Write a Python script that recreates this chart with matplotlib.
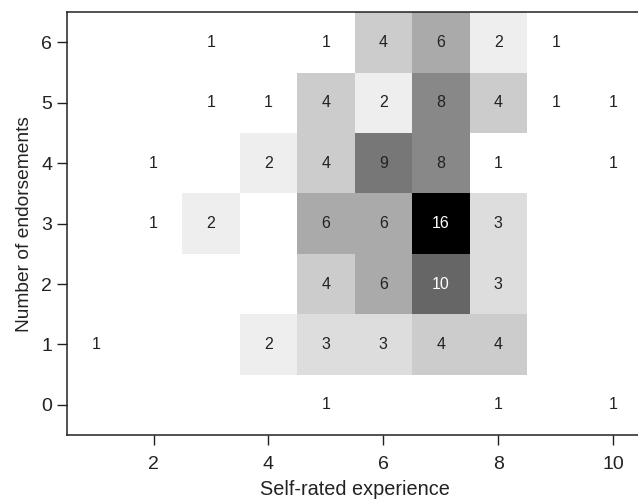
import numpy as np
import matplotlib
matplotlib.use("Agg")
import matplotlib.pyplot as plt
from matplotlib.colors import LinearSegmentedColormap

plt.rcParams['font.family'] = ['Liberation Sans', 'DejaVu Sans']

experience = [1, 2, 3, 4, 5, 6, 7, 8, 9, 10]
endorsements = [0, 1, 2, 3, 4, 5, 6]

row_0 = [0, 0, 0, 0, 1, 0, 0, 1, 0, 1]
row_1 = [1, 0, 0, 2, 3, 3, 4, 4, 0, 0]
row_2 = [0, 0, 0, 0, 4, 6, 10, 3, 0, 0]
row_3 = [0, 1, 2, 0, 6, 6, 16, 3, 0, 0]
row_4 = [0, 1, 0, 2, 4, 9, 8, 1, 0, 1]
row_5 = [0, 0, 1, 1, 4, 2, 8, 4, 1, 1]
row_6 = [0, 0, 1, 0, 1, 4, 6, 2, 1, 0]

counts = np.array([row_0, row_1, row_2, row_3, row_4, row_5, row_6], dtype=float)

fig = plt.figure(figsize=(6.38, 5.03), dpi=100)
ax = fig.add_axes([67.3 / 638, 68 / 503, (642 - 67.3) / 638, (435 - 12.3) / 503])

cmap = LinearSegmentedColormap.from_list('wb', ['#ffffff', '#000000'])
masked = np.ma.masked_where(counts == 0, counts)
xe = np.arange(len(experience) + 1) + experience[0] - 0.5
ye = np.arange(len(endorsements) + 1) + endorsements[0] - 0.5
ax.pcolormesh(xe, ye, masked, cmap=cmap, vmin=1, vmax=16)

for i, yv in enumerate(endorsements):
    for j, xv in enumerate(experience):
        n = int(counts[i, j])
        if n > 0:
            ax.text(xv, yv, str(n), ha='center', va='center', fontsize=11.5,
                    color='white' if n >= 10 else '#222222')

ax.set_xlim(0.5, 10.5)
ax.set_ylim(-0.5, 6.5)
ax.set_xticks([2, 4, 6, 8, 10])
ax.set_yticks(endorsements)
ax.tick_params(direction='out', length=7, width=1, labelsize=14, colors='#222222')
ax.tick_params(axis='x', pad=8)
ax.tick_params(axis='y', pad=4)
for s in ax.spines.values():
    s.set_linewidth(1.1)
    s.set_color('#222222')
ax.set_xlabel('Self-rated experience', fontsize=14.3, color='#222222', labelpad=5)
ax.set_ylabel('Number of endorsements', fontsize=13.8, color='#222222', labelpad=6)

fig.savefig('out.png', dpi=100)
